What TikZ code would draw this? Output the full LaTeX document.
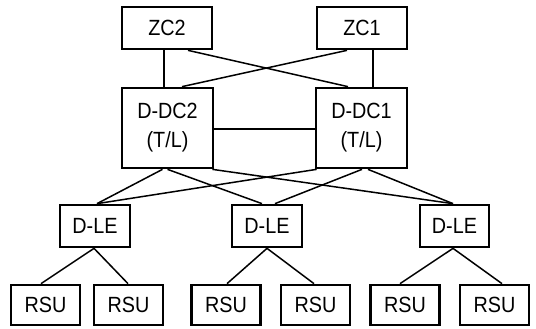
\documentclass[tikz,border=0pt]{standalone}
\usepackage{fontspec}
\setmainfont[FakeStretch=0.9]{Liberation Sans}
\begin{document}
\begin{tikzpicture}[x=1pt,y=-1pt,
  box/.style={draw,line width=2.7pt,inner sep=0pt,align=center,font=\fontsize{22}{29}\selectfont},
  zcbox/.style={box,minimum width=90pt,minimum height=42pt},
  dcbox/.style={box,minimum width=91pt,minimum height=80pt},
  lebox/.style={box,minimum width=70pt,minimum height=42pt},
  rsubox/.style={box,minimum width=69pt,minimum height=40pt},
  link/.style={line width=1.5pt}]
\useasboundingbox (0,0) rectangle (536,329);
\node[zcbox] (zc2) at (167,28) {ZC2};
\node[zcbox] (zc1) at (362,28) {ZC1};
\node[dcbox] (ddc2) at (167.5,128) {D-DC2\\(T/L)};
\node[dcbox] (ddc1) at (361.5,128) {D-DC1\\(T/L)};
\node[lebox] (dle1) at (95,226) {D-LE};
\node[lebox] (dle2) at (267,226) {D-LE};
\node[lebox,minimum width=69pt] (dle3) at (454.5,226) {D-LE};
\node[rsubox] (rsu1) at (45.5,305) {RSU};
\node[rsubox] (rsu2) at (128.5,305) {RSU};
\node[rsubox] (rsu3) at (226,305) {RSU};
\node[rsubox] (rsu4) at (315.5,305) {RSU};
\node[rsubox] (rsu5) at (405,305) {RSU};
\node[rsubox] (rsu6) at (494.5,305) {RSU};
% ZC to D-DC
\draw[link] ([xshift=-3pt]zc2.south) -- ([xshift=-3.5pt]ddc2.north);
\draw[link] ([xshift=11pt]zc1.south) -- ([xshift=11.5pt]ddc1.north);
\draw[link] ([xshift=21pt]zc2.south) -- ([xshift=-13.5pt]ddc1.north);
\draw[link] ([xshift=-15pt]zc1.south) -- ([xshift=14.5pt]ddc2.north);
% D-DC to D-DC
\draw[link] ([yshift=-1pt]ddc2.east) -- ([yshift=-1pt]ddc1.west);
% D-DC to D-LE
\draw[link] ([xshift=-5pt]ddc2.south) -- ([xshift=2pt]dle1.north);
\draw[link] (ddc2.south) -- ([xshift=-5pt]dle2.north);
\draw[link] ([xshift=-2pt]ddc2.south east) -- ([xshift=-1.5pt]dle3.north);
\draw[link] ([xshift=2pt]ddc1.south west) -- ([xshift=2pt]dle1.north);
\draw[link] ([xshift=0.5pt]ddc1.south) -- ([xshift=8pt]dle2.north);
\draw[link] ([xshift=6.5pt]ddc1.south) -- ([xshift=-1.5pt]dle3.north);
% D-LE to RSU
\draw[link] ([xshift=-1pt]dle1.south) -- ([xshift=-4.5pt]rsu1.north);
\draw[link] ([xshift=-1pt]dle1.south) -- ([xshift=-0.5pt]rsu2.north);
\draw[link] (dle2.south) -- ([xshift=1pt]rsu3.north);
\draw[link] (dle2.south) -- ([xshift=-1.5pt]rsu4.north);
\draw[link] ([xshift=-1.5pt]dle3.south) -- ([xshift=-5pt]rsu5.north);
\draw[link] ([xshift=-1.5pt]dle3.south) -- ([xshift=7.5pt]rsu6.north);
\end{tikzpicture}
\end{document}
